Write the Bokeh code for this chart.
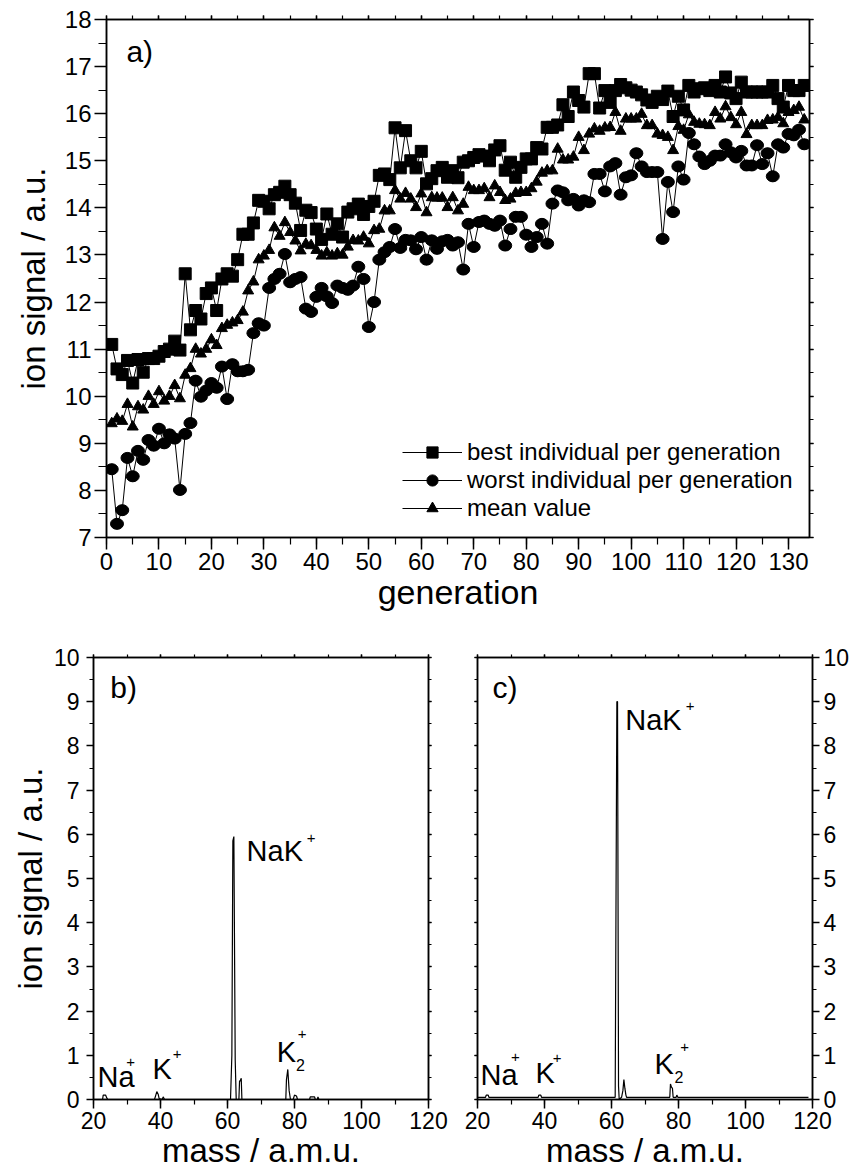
from bokeh.plotting import figure
from bokeh.layouts import column, row
from bokeh.models import Range1d, LinearAxis, FixedTicker, Legend, LegendItem, Label
from bokeh.embed import file_html
from bokeh.resources import INLINE

FONT = "Liberation Sans"

# ---------------- data: panel a ----------------
generation = list(range(1, 134))

best_individual = [
    11.10, 10.58, 10.46, 10.76, 10.28, 10.78, 10.51, 10.80, 10.80, 10.85,
    10.95, 11.00, 11.17, 10.98, 12.60, 11.41, 11.82, 11.64, 12.18, 12.30,
    11.82, 12.49, 12.60, 12.55, 12.90, 13.44, 13.44, 13.68, 14.16, 14.14,
    13.98, 14.28, 14.33, 14.46, 14.28, 14.10, 13.52, 13.95, 13.90, 13.55,
    13.33, 13.87, 13.44, 13.66, 13.38, 13.91, 13.98, 14.08, 13.86, 14.03,
    14.14, 14.69, 14.72, 14.60, 15.70, 14.85, 15.64, 15.00, 14.85, 15.20,
    14.51, 14.62, 14.79, 14.86, 14.65, 14.79, 14.64, 14.97, 15.00, 15.07,
    15.13, 15.10, 15.00, 15.23, 15.32, 14.80, 14.97, 14.65, 14.86, 15.04,
    15.04, 15.28, 15.25, 15.71, 15.71, 15.76, 16.19, 15.94, 16.46, 16.28,
    16.14, 16.85, 16.85, 16.12, 16.49, 16.24, 16.49, 16.62, 16.55, 16.50,
    16.46, 16.40, 16.29, 16.24, 16.37, 16.30, 16.48, 15.94, 16.37, 16.08,
    16.60, 16.46, 16.53, 16.55, 16.49, 16.60, 16.46, 16.78, 16.44, 16.32,
    16.67, 16.46, 16.46, 16.46, 16.46, 16.46, 16.60, 16.32, 16.14, 16.60,
    16.49, 16.49, 16.60]

worst_individual = [
    8.45, 7.29, 7.58, 8.69, 8.30, 8.84, 8.65, 9.07, 8.95, 9.31,
    9.00, 9.19, 9.10, 8.01, 9.20, 9.43, 10.33, 9.99, 10.12, 10.28,
    10.18, 10.63, 9.94, 10.68, 10.53, 10.53, 10.56, 11.34, 11.55, 11.50,
    12.30, 12.49, 12.60, 13.02, 12.42, 12.49, 12.53, 11.86, 11.79, 12.11,
    12.30, 12.12, 11.98, 12.35, 12.30, 12.26, 12.35, 12.75, 12.49, 11.47,
    12.00, 12.90, 13.06, 13.17, 13.55, 13.15, 13.32, 13.31, 13.12, 13.38,
    12.90, 13.31, 13.13, 13.29, 13.32, 13.20, 13.27, 12.69, 13.66, 13.17,
    13.70, 13.73, 13.66, 13.62, 13.73, 13.20, 13.55, 13.81, 13.81, 13.43,
    13.17, 13.38, 13.66, 13.24, 14.09, 14.37, 14.33, 14.16, 14.19, 14.05,
    14.16, 14.12, 14.72, 14.72, 14.35, 14.88, 14.95, 14.28, 14.65, 14.69,
    15.16, 14.88, 14.76, 14.76, 14.76, 13.34, 14.55, 13.91, 14.88, 14.60,
    15.59, 15.35, 15.09, 14.93, 15.00, 15.11, 15.11, 15.35, 15.18, 15.07,
    15.21, 14.90, 14.90, 15.33, 14.93, 15.16, 14.67, 15.35, 15.28, 15.57,
    15.54, 15.66, 15.35]

mean_value = [
    9.42, 9.52, 9.47, 9.83, 9.35, 9.78, 9.71, 10.00, 9.83, 10.10,
    9.90, 10.00, 10.23, 9.95, 10.45, 10.59, 11.00, 10.90, 11.00, 11.20,
    11.08, 11.44, 11.51, 11.56, 11.61, 11.79, 12.24, 12.43, 12.90, 12.98,
    13.10, 13.58, 13.40, 13.69, 13.48, 13.30, 13.09, 13.23, 13.20, 13.10,
    12.98, 13.05, 12.98, 13.03, 13.00, 13.17, 13.31, 13.30, 13.38, 13.24,
    13.52, 13.55, 13.94, 13.94, 14.37, 14.19, 14.31, 14.19, 14.01, 14.30,
    13.90, 14.22, 14.21, 14.21, 14.01, 14.22, 13.94, 14.08, 14.44, 14.37,
    14.37, 14.41, 14.22, 14.47, 14.33, 14.16, 14.19, 14.31, 14.33, 14.33,
    14.41, 14.55, 14.74, 14.79, 14.79, 15.25, 15.02, 15.02, 15.08, 15.50,
    15.22, 15.57, 15.68, 15.63, 15.70, 15.71, 16.03, 15.63, 15.89, 15.89,
    15.89, 15.99, 15.75, 15.75, 15.57, 15.54, 15.50, 15.22, 15.73, 15.65,
    15.98, 15.82, 15.78, 15.77, 15.75, 16.03, 15.89, 16.15, 15.92, 15.77,
    16.03, 15.56, 15.75, 15.75, 15.75, 15.86, 15.87, 15.92, 15.79, 16.03,
    16.07, 16.14, 15.87]

gen_ticks = list(range(0, 131, 10))
gen_minor = list(range(0, 135, 5))
signal_ticks = list(range(7, 19))
signal_minor = [7 + 0.5 * i for i in range(23)]

# ---------------- data: panels b and c (mass spectra) ----------------
mass_b = [20.0, 22.7, 22.9, 23.6, 24.0, 24.3, 38.2, 38.6, 38.9, 39.3,
          39.6, 40.5, 40.8, 41.2, 60.9, 61.3, 61.6, 61.9, 62.3, 62.6,
          63.4, 63.6, 63.8, 64.1, 64.3, 77.4, 77.6, 78.0, 78.4, 78.8,
          79.6, 80.0, 80.6, 80.9, 84.5, 84.7, 86.0, 86.2, 86.8, 87.0,
          87.3, 103.6]
signal_b = [0.0, 0.0, 0.1, 0.1, 0.03, 0.0, 0.0, 0.1, 0.18, 0.12,
            0.02, 0.0, 0.06, 0.0, 0.0, 1.0, 5.85, 5.95, 0.9, 0.0,
            0.0, 0.42, 0.42, 0.48, 0.0, 0.0, 0.45, 0.68, 0.2, 0.0,
            0.0, 0.1, 0.08, 0.0, 0.0, 0.06, 0.06, 0.0, 0.0, 0.06,
            0.0, 0.0]

mass_c = [20.0, 22.4, 22.6, 23.2, 23.4, 38.1, 38.3, 38.9, 39.1, 61.1,
          61.6, 61.8, 62.1, 62.3, 63.0, 63.4, 63.7, 64.0, 64.3, 64.5,
          77.4, 77.6, 77.9, 78.2, 78.4, 79.3, 79.5, 79.8, 118.8]
signal_c = [0.05, 0.05, 0.1, 0.1, 0.05, 0.05, 0.1, 0.1, 0.05, 0.05,
            9.0, 9.0, 0.3, 0.0, 0.05, 0.2, 0.45, 0.25, 0.1, 0.05,
            0.05, 0.35, 0.28, 0.25, 0.05, 0.05, 0.1, 0.05, 0.05]

mass_ticks = [20, 40, 60, 80, 100, 120]
mass_minor = list(range(20, 121, 10))
spec_ticks = list(range(0, 11))
spec_minor = [0.5 * i for i in range(21)]


def style_axis(ax, ticks, minor, out_major, out_minor, labels=True,
               lab_size="24px", standoff=3):
    ax.ticker = FixedTicker(ticks=ticks, minor_ticks=minor)
    ax.axis_line_color = "black"
    ax.axis_line_width = 1.5
    ax.major_tick_line_color = "black"
    ax.major_tick_line_width = 1.5
    ax.minor_tick_line_color = "black"
    ax.minor_tick_line_width = 1.2
    ax.major_tick_in = 0
    ax.minor_tick_in = 0
    ax.major_tick_out = out_major
    ax.minor_tick_out = out_minor
    ax.major_label_text_font = FONT
    ax.major_label_text_color = "black"
    if labels:
        ax.major_label_text_font_size = lab_size
        ax.major_label_standoff = standoff
    else:
        # mirror axis: ticks only, empty labels
        ax.major_label_overrides = {t: "" for t in ticks}
        ax.major_label_text_font_size = "8px"
        ax.major_label_standoff = 0
    ax.axis_label_text_font = FONT
    ax.axis_label_text_font_style = "normal"
    ax.axis_label_text_color = "black"


def base_fig(**kw):
    f = figure(output_backend="svg", toolbar_location=None, **kw)
    f.grid.visible = False
    f.outline_line_color = "black"
    f.outline_line_width = 1.5
    f.background_fill_color = "white"
    f.border_fill_color = "white"
    return f


# ---------------- panel a ----------------
p = base_fig(width=854, height=620, x_range=Range1d(0, 134), y_range=Range1d(7, 18),
             min_border_left=106, min_border_right=45, min_border_top=19, min_border_bottom=83)

style_axis(p.xaxis[0], gen_ticks, gen_minor, 12, 7, lab_size="24px", standoff=3)
p.xaxis[0].axis_label = "generation"
p.xaxis[0].axis_label_text_font_size = "34px"
p.xaxis[0].axis_label_standoff = 0
style_axis(p.yaxis[0], signal_ticks, signal_minor, 12, 8, lab_size="24px", standoff=3)
p.yaxis[0].axis_label = "ion signal / a.u."
p.yaxis[0].axis_label_text_font_size = "33px"
p.yaxis[0].axis_label_standoff = 10

top_ax = LinearAxis()
style_axis(top_ax, gen_ticks, gen_minor, 4, 4, labels=False)
p.add_layout(top_ax, "above")
right_ax = LinearAxis()
style_axis(right_ax, signal_ticks, signal_minor, 4, 4, labels=False)
p.add_layout(right_ax, "right")

lb = p.line(generation, best_individual, line_color="black", line_width=1)
lw = p.line(generation, worst_individual, line_color="black", line_width=1)
lm = p.line(generation, mean_value, line_color="black", line_width=1)
mb = p.scatter(generation, best_individual, marker="square", size=12,
               fill_color="black", line_color="black")
# round core of the worst-marker (used as legend sample), covered by the ellipse
mwc = p.scatter(generation, worst_individual, marker="circle", size=10,
                fill_color="black", line_color="black")
mw = p.ellipse(x=generation, y=worst_individual, width=13, height=11,
               width_units="screen", height_units="screen",
               fill_color="black", line_color="black")
mm = p.scatter(generation, mean_value, marker="triangle", size=11,
               fill_color="black", line_color="black")

legend = Legend(items=[
    LegendItem(label="best individual per generation", renderers=[lb, mb]),
    LegendItem(label="worst individual per generation", renderers=[lw, mwc]),
    LegendItem(label="mean value", renderers=[lm, mm]),
], location=(296, 15))
legend.label_text_font = FONT
legend.label_text_font_size = "24px"
legend.label_text_color = "black"
legend.glyph_width = 60
legend.glyph_height = 28
legend.label_height = 28
legend.label_standoff = 5
legend.spacing = 0
legend.padding = 0
legend.margin = 0
legend.border_line_alpha = 0
legend.background_fill_alpha = 0
p.add_layout(legend)

p.add_layout(Label(x=3.8, y=17.68, text="a)", text_font=FONT, text_font_size="30px",
                   text_baseline="top", text_align="left", text_color="black"))

# ---------------- panel b ----------------
b = base_fig(width=452, height=556, x_range=Range1d(20, 120), y_range=Range1d(0, 10),
             min_border_left=93, min_border_right=24, min_border_top=37, min_border_bottom=77)
b.line(mass_b, signal_b, line_color="black", line_width=1.2)
style_axis(b.xaxis[0], mass_ticks, mass_minor, 9, 5, lab_size="23px", standoff=3)
b.xaxis[0].axis_label = "mass / a.m.u."
b.xaxis[0].axis_label_text_font_size = "33px"
b.xaxis[0].axis_label_standoff = 0
style_axis(b.yaxis[0], spec_ticks, spec_minor, 7, 4, lab_size="23px", standoff=7)
b.yaxis[0].axis_label = "ion signal / a.u."
b.yaxis[0].axis_label_text_font_size = "33px"
b.yaxis[0].axis_label_standoff = 2
bt = LinearAxis()
style_axis(bt, mass_ticks, mass_minor, 3, 3, labels=False)
b.add_layout(bt, "above")
br = LinearAxis()
style_axis(br, spec_ticks, spec_minor, 3, 3, labels=False)
b.add_layout(br, "right")

# ---------------- panel c ----------------
c = base_fig(width=402, height=556, x_range=Range1d(20, 120), y_range=Range1d(0, 10),
             y_axis_location="right",
             min_border_left=25, min_border_right=42, min_border_top=37, min_border_bottom=77)
c.line(mass_c, signal_c, line_color="black", line_width=1.2)
style_axis(c.xaxis[0], mass_ticks, mass_minor, 9, 5, lab_size="23px", standoff=3)
c.xaxis[0].axis_label = "mass / a.m.u."
c.xaxis[0].axis_label_text_font_size = "33px"
c.xaxis[0].axis_label_standoff = 0
style_axis(c.yaxis[0], spec_ticks, spec_minor, 7, 4, lab_size="23px", standoff=4)
ct = LinearAxis()
style_axis(ct, mass_ticks, mass_minor, 3, 3, labels=False)
c.add_layout(ct, "above")
cl = LinearAxis()
style_axis(cl, spec_ticks, spec_minor, 3, 3, labels=False)
c.add_layout(cl, "left")


def lab(fig, x, y, text, size, base="middle", align="left"):
    fig.add_layout(Label(x=x, y=y, text=text, text_font=FONT, text_font_size=size,
                         text_baseline=base, text_align=align, text_color="black"))


SUP = "15px"
SUB = "16px"
BIG = "29px"
# panel b annotations (big text: vertical centre of capitals)
lab(b, 25.0, 9.70, "b)", "30px", base="top")
lab(b, 21.2, 0.50, "Na", BIG)
lab(b, 31.1, 0.84, "+", SUP, align="center")
lab(b, 37.6, 0.70, "K", BIG)
lab(b, 45.0, 1.04, "+", SUP, align="center")
lab(b, 65.7, 5.63, "NaK", BIG)
lab(b, 85.0, 5.92, "+", SUP, align="center")
lab(b, 74.7, 1.07, "K", BIG)
lab(b, 81.8, 0.77, "2", SUB, align="center")
lab(b, 82.3, 1.49, "+", SUP, align="center")
# panel c annotations
lab(c, 24.5, 9.70, "c)", "30px", base="top")
lab(c, 20.9, 0.55, "Na", BIG)
lab(c, 31.3, 0.96, "+", SUP, align="center")
lab(c, 37.3, 0.60, "K", BIG)
lab(c, 43.8, 0.93, "+", SUP, align="center")
lab(c, 64.1, 8.58, "NaK", BIG)
lab(c, 83.5, 8.90, "+", SUP, align="center")
lab(c, 72.8, 0.80, "K", BIG)
lab(c, 80.1, 0.52, "2", SUB, align="center")
lab(c, 81.8, 1.18, "+", SUP, align="center")

layout = column(p, row(b, c, spacing=0), spacing=0)

open("out.html", "w").write(file_html(layout, INLINE))
